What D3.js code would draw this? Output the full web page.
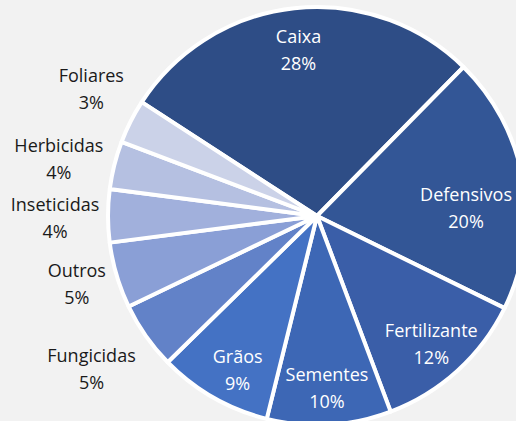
<!DOCTYPE html>
<html>
<head>
<meta charset="utf-8">
<script src="https://cdn.jsdelivr.net/npm/d3@7"></script>
<style>
  body { margin: 0; background: #f2f2f2; }
  text { font-family: "Open Sans", "Noto Sans", sans-serif; font-size: 18px; }
</style>
</head>
<body>
<div id="chart"></div>
<script>
const categories = ["Caixa", "Defensivos", "Fertilizante", "Sementes", "Grãos",
                    "Fungicidas", "Outros", "Inseticidas", "Herbicidas", "Foliares"];
const shares = [28.2, 19.9, 12.0, 9.6, 8.8, 5.2, 5.1, 4.1, 3.7, 3.4];
const colors = ["#2e4d86", "#335696", "#3a5ea8", "#3d67b5", "#4472c4",
                "#6282c8", "#8a9fd6", "#a1b0dc", "#b5c0e1", "#cbd2e8"];
const insideLabel = [true, true, true, true, true, false, false, false, false, false];

// small hand nudges for the labels, like Excel's best fit
const labelNudge = {
  "Defensivos": [0, 18], "Grãos": [5, 4], "Fungicidas": [-11, 0],
  "Outros": [11, -9], "Herbicidas": [-4, 4], "Foliares": [8, -11]
};

const width = 516;
const height = 421;
const radius = 209;
const cx = 317, cy = 216;

const data = categories.map((c, i) => ({name: c, value: shares[i], color: colors[i], inside: insideLabel[i]}));

const svg = d3.select("#chart")
  .append("svg")
    .attr("width", width)
    .attr("height", height);

svg.append("rect")
  .attr("width", width)
  .attr("height", height)
  .attr("fill", "#f2f2f2");

const g = svg.append("g")
  .attr("transform", `translate(${cx}, ${cy})`);

const start = -57 * Math.PI / 180;
const pie = d3.pie()
  .sort(null)
  .value(d => d.value)
  .startAngle(start)
  .endAngle(start + 2 * Math.PI);

const arcs = pie(data);

const arc = d3.arc().innerRadius(0).outerRadius(radius);
const inArc = d3.arc().innerRadius(170).outerRadius(170);
const outArc = d3.arc().innerRadius(262).outerRadius(262);

g.selectAll("path")
  .data(arcs)
  .join("path")
    .attr("d", arc)
    .attr("fill", d => d.data.color)
    .attr("stroke", "white")
    .attr("stroke-width", 4)
    .attr("stroke-linejoin", "round");

const labels = g.selectAll("g.label")
  .data(arcs)
  .join("g")
    .attr("class", "label");

labels.each(function(d) {
  const sel = d3.select(this);
  let [x, y] = d.data.inside ? inArc.centroid(d) : outArc.centroid(d);
  const t = sel.append("text")
    .attr("text-anchor", "middle")
    .attr("fill", d.data.inside ? "white" : "#1a1a1a");
  t.append("tspan").attr("x", 0).attr("dy", "-0.25em").text(d.data.name);
  t.append("tspan").attr("x", 0).attr("dy", "1.5em").text(Math.round(d.data.value) + "%");
  // keep labels inside the frame
  const w = t.node().getBBox().width;
  const maxX = width - cx - w / 2 - 4;
  x = Math.min(x, maxX);
  const n = labelNudge[d.data.name] || [0, 0];
  sel.attr("transform", `translate(${x + n[0]}, ${y + n[1]})`);
});
</script>
</body>
</html>
